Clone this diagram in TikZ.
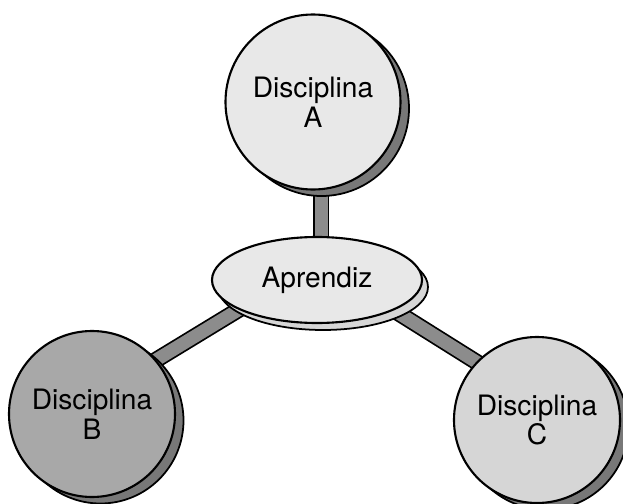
\documentclass[tikz,border=0pt]{standalone}
\usepackage{fontspec}
\setsansfont{TeX Gyre Heros}
\usepackage{tikz}
\usetikzlibrary{shapes,positioning,shadows,backgrounds}
\usepackage{xcolor}
\definecolor{aplight}{RGB}{232,232,232}
\definecolor{apmid}{RGB}{214,214,214}
\definecolor{apdark}{RGB}{168,168,168}
\definecolor{apbar}{RGB}{140,140,140}
\definecolor{apshade}{RGB}{120,120,120}
\tikzstyle{disc} = [circle, draw=black, line width=1.2pt, text centered, align=center, inner sep=0pt,
  font=\sffamily\fontsize{16}{17}\selectfont,
  drop shadow={shadow xshift=0.17cm, shadow yshift=-0.13cm, fill=apshade, draw=black, line width=1pt, opacity=1}]
\tikzstyle{hub} = [ellipse, draw=black, line width=1.2pt, text centered, inner sep=0pt,
  minimum width=4.2cm, minimum height=1.72cm, fill=aplight,
  font=\sffamily\fontsize{16}{17}\selectfont,
  drop shadow={shadow xshift=0.12cm, shadow yshift=-0.14cm, fill=apmid, draw=black, line width=1pt, opacity=1}]
\tikzstyle{bar} = [line width=0.035cm, draw=black, double=apbar, double distance=0.26cm]

\begin{document}
\begin{tikzpicture}
\useasboundingbox (0,0) rectangle (12.46,10.06);

% Learner in the middle
\node[hub] (apr) at (6.34,4.46) {Aprendiz};

% Disciplines around the learner
\node[disc, minimum size=3.5cm, fill=aplight] (da) at (6.26,8.02) {Disciplina\\A};
\node[disc, minimum size=3.32cm, fill=apdark] (db) at (1.84,1.78) {Disciplina\\B};
\node[disc, minimum size=3.32cm, fill=apmid] (dc) at (10.74,1.66) {Disciplina\\C};

% Links (behind the shapes)
\begin{pgfonlayer}{background}
\draw[bar] ([xshift=0.08cm]apr.center) -- ([xshift=0.16cm]da.center);
\draw[bar] ([yshift=0.36cm]apr.center) -- ([yshift=0.3cm]db.center);
\draw[bar] ([yshift=0.36cm]apr.center) -- ([yshift=0.4cm]dc.center);
\end{pgfonlayer}
\end{tikzpicture}
\end{document}
